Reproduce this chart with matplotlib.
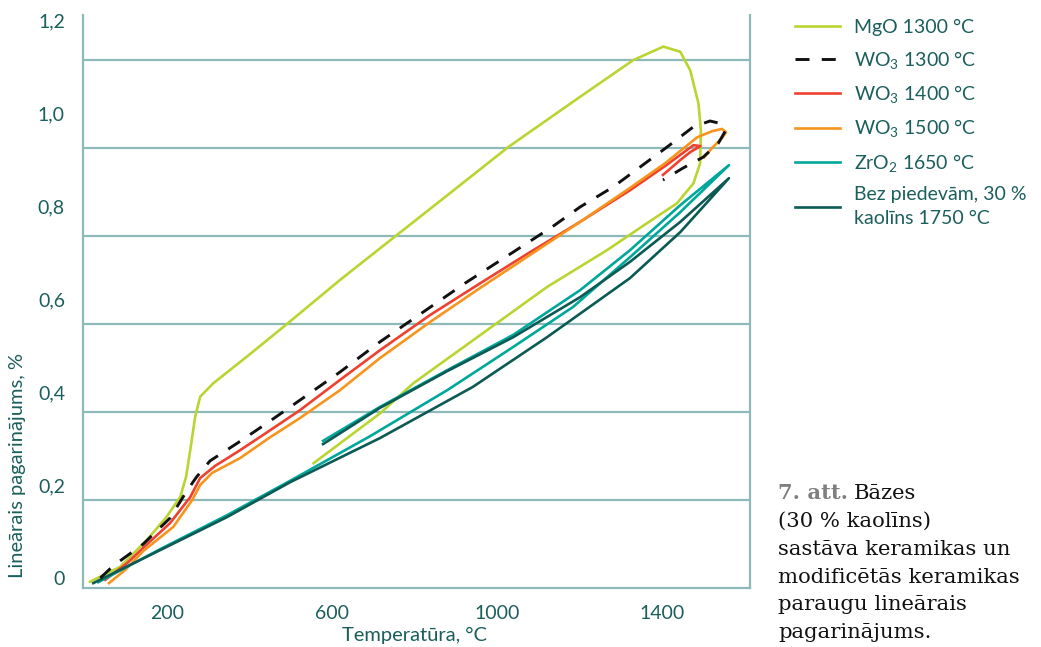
import matplotlib
matplotlib.use("Agg")
import matplotlib.pyplot as plt

# --- dati (temperatūra, °C / lineārais pagarinājums, %) ---
mgo_t = [13, 86, 151, 199, 232, 246, 256, 268, 280, 312, 393, 490, 619, 753, 886,
         1027, 1201, 1330, 1403, 1444, 1468, 1488, 1494, 1492, 1476, 1436, 1363,
         1266, 1121, 999, 797, 716, 555]
mgo_v = [-0.008, 0.024, 0.082, 0.132, 0.175, 0.218, 0.275, 0.347, 0.39, 0.419,
         0.476, 0.546, 0.641, 0.735, 0.828, 0.927, 1.035, 1.114, 1.143, 1.132,
         1.092, 1.021, 0.963, 0.892, 0.849, 0.806, 0.763, 0.705, 0.626, 0.548,
         0.419, 0.354, 0.247]

wo3_1300_t = [38, 69, 142, 207, 246, 271, 304, 370, 442, 505, 619, 716, 922, 1133,
              1201, 1281, 1412, 1475, 1516, 1540, 1553, 1536, 1499, 1451, 1402]
wo3_1300_v = [0.0, 0.026, 0.073, 0.129, 0.185, 0.217, 0.252, 0.290, 0.333, 0.372,
              0.443, 0.508, 0.634, 0.755, 0.798, 0.841, 0.927, 0.970, 0.983, 0.978,
              0.961, 0.935, 0.905, 0.882, 0.856]

wo3_1400_t = [50, 103, 142, 207, 256, 280, 316, 377, 450, 522, 619, 716, 838, 959,
              1080, 1201, 1322, 1407, 1476, 1493, 1468, 1444, 1402]
wo3_1400_v = [-0.004, 0.032, 0.065, 0.118, 0.174, 0.215, 0.241, 0.275, 0.318, 0.361,
              0.426, 0.490, 0.566, 0.634, 0.701, 0.766, 0.834, 0.886, 0.931, 0.929,
              0.916, 0.899, 0.867]

wo3_1500_t = [59, 98, 142, 215, 261, 280, 309, 377, 450, 522, 619, 716, 838, 959,
              1080, 1201, 1322, 1407, 1485, 1521, 1545, 1555, 1545, 1521, 1502]
wo3_1500_v = [-0.011, 0.017, 0.058, 0.110, 0.168, 0.200, 0.226, 0.258, 0.303, 0.344,
              0.404, 0.473, 0.551, 0.624, 0.695, 0.766, 0.839, 0.892, 0.948, 0.961,
              0.966, 0.959, 0.946, 0.925, 0.905]

zro2_t = [33, 183, 345, 498, 692, 879, 1039, 1184, 1322, 1444, 1562,
          1444, 1322, 1201, 1039, 879, 716, 578]
zro2_v = [-0.009, 0.062, 0.135, 0.209, 0.305, 0.404, 0.497, 0.583, 0.690, 0.787, 0.888,
          0.802, 0.705, 0.619, 0.523, 0.447, 0.368, 0.295]

base_t = [21, 183, 345, 498, 716, 941, 1121, 1322, 1444, 1562,
          1444, 1322, 1201, 1039, 879, 716, 578]
base_v = [-0.011, 0.060, 0.131, 0.206, 0.301, 0.411, 0.518, 0.645, 0.744, 0.860,
          0.766, 0.680, 0.604, 0.518, 0.445, 0.366, 0.288]

labels = ["MgO 1300 °C", "WO$_3$ 1300 °C", "WO$_3$ 1400 °C", "WO$_3$ 1500 °C",
          "ZrO$_2$ 1650 °C", "Bez piedevām, 30 %\nkaolīns 1750 °C"]
x_ticks = [200, 600, 1000, 1400]
y_ticks = [0, 0.2, 0.4, 0.6, 0.8, 1.0, 1.2]
y_ticklabels = ["0", "0,2", "0,4", "0,6", "0,8", "1,0", "1,2"]
grid_y = [0.168, 0.357, 0.546, 0.735, 0.925, 1.114]

caption = ["(30 % kaolīns)", "sastāva keramikas un", "modificētās keramikas",
           "paraugu lineārais", "pagarinājums."]

# --- stils ---
txt = "#1b5f5c"
grid_c = "#8fb9b8"
colors = ["#bad532", "#111111", "#ee412f", "#f7941d", "#00a79b", "#0c5a54"]

plt.rcParams["font.family"] = ["Lato", "DejaVu Sans"]
plt.rcParams["mathtext.fontset"] = "custom"
plt.rcParams["mathtext.rm"] = "Lato"
plt.rcParams["mathtext.it"] = "Lato"

fig = plt.figure(figsize=(10.41, 6.47), dpi=100)
ax = fig.add_axes([83 / 1041, 1 - 588 / 647, 667 / 1041, 573 / 647])

for g in grid_y:
    ax.axhline(g, color=grid_c, lw=1.6, zorder=1)

series = [(mgo_t, mgo_v), (wo3_1300_t, wo3_1300_v), (wo3_1400_t, wo3_1400_v),
          (wo3_1500_t, wo3_1500_v), (zro2_t, zro2_v), (base_t, base_v)]
handles = []
for i, (t, v) in enumerate(series):
    if i == 1:
        ln, = ax.plot(t, v, color=colors[i], lw=2.1, dashes=(4.8, 4.2),
                      solid_joinstyle="round", zorder=5)
    else:
        ln, = ax.plot(t, v, color=colors[i], lw=1.9, solid_joinstyle="round",
                      zorder=3 if i != 0 else 2)
    handles.append(ln)

ax.set_xlim(-4, 1613)
ax.set_ylim(-0.0215, 1.211)
ax.set_xticks(x_ticks)
ax.set_xticklabels([str(x) for x in x_ticks])
ax.set_yticks(y_ticks)
ax.set_yticklabels(y_ticklabels)
ax.tick_params(length=0, colors=txt, labelsize=14)
ax.tick_params(axis="x", pad=12)
ax.tick_params(axis="y", pad=13)
for s in ["left", "right", "bottom"]:
    ax.spines[s].set_color(grid_c)
    ax.spines[s].set_linewidth(1.6)
ax.spines["top"].set_visible(False)

fig.text(18 / 1041, 1 - 466 / 647, "Lineārais pagarinājums, %", rotation=90,
         ha="center", va="center", color=txt, fontsize=14.5)
fig.text(414 / 1041, 1 - 635 / 647, "Temperatūra, °C", ha="center", va="center",
         color=txt, fontsize=14.5)

leg = fig.legend(handles, labels, loc="upper left",
                 bbox_to_anchor=(795 / 1041, 1 - 19 / 647), frameon=False,
                 borderpad=0, borderaxespad=0, handlelength=2.3,
                 handletextpad=0.75, labelspacing=0.64, fontsize=14,
                 labelcolor=txt)
for t in leg.get_texts():
    t.set_linespacing(1.45)

serif = "DejaVu Serif"
cap = fig.text(778 / 1041, 1 - 499 / 647, "7. att.", fontsize=15.2,
               fontweight="bold", color="#7f7f7f", family=serif, va="baseline")
ax.annotate("Bāzes", xy=(1, 0), xycoords=cap, xytext=(4, 0),
            textcoords="offset points", fontsize=15.2, family=serif,
            color="#111111", va="bottom", annotation_clip=False)
for k, line in enumerate(caption):
    fig.text(778 / 1041, 1 - (527 + 27.8 * k) / 647, line, fontsize=15.2,
             family=serif, color="#111111", va="baseline")

fig.savefig("out.png", dpi=100)
